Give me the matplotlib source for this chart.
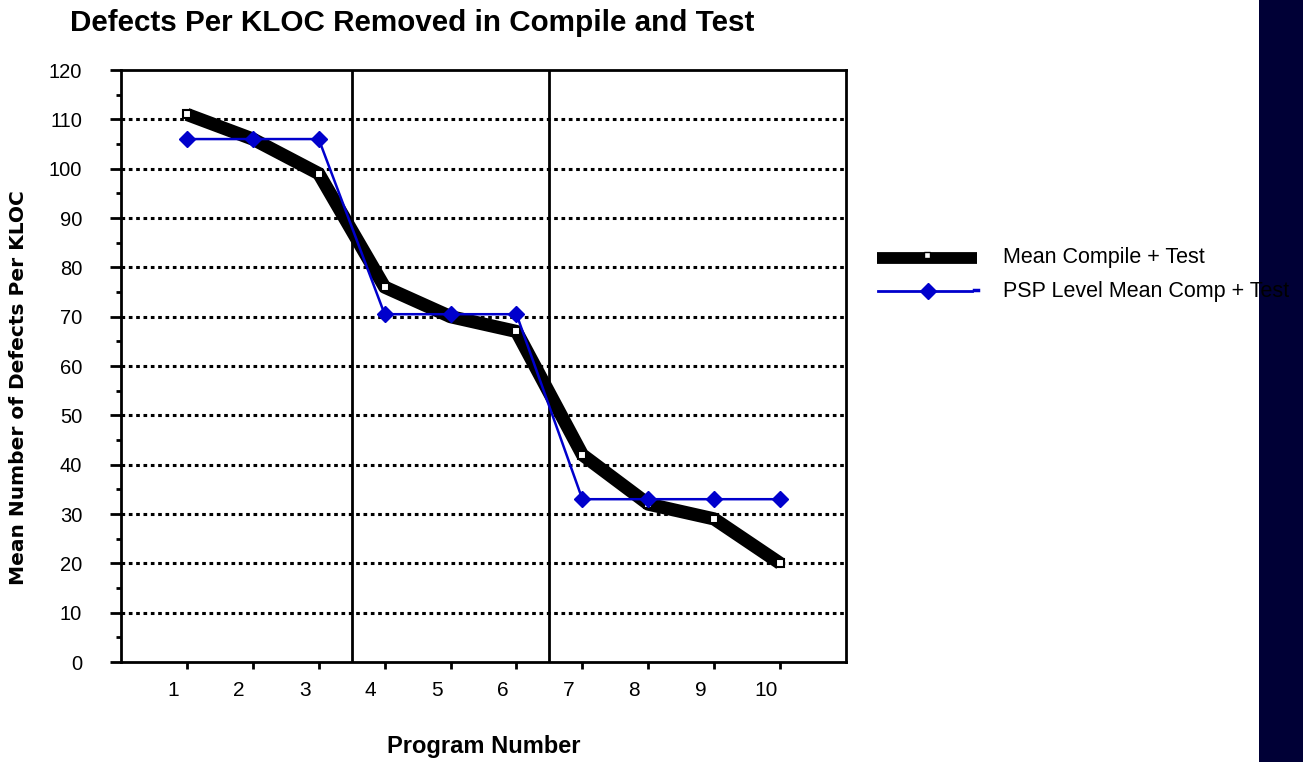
import numpy as np
import matplotlib.pyplot as plt
from matplotlib.patches import Rectangle
from matplotlib.lines import Line2D

plt.rcParams['font.family'] = ['Liberation Sans', 'DejaVu Sans']

# data
programs = [1, 2, 3, 4, 5, 6, 7, 8, 9, 10]
mean_ct = [111, 106, 99, 76, 70, 67, 42, 32, 29, 20]
psp_level = [106, 106, 106, 70.5, 70.5, 70.5, 33, 33, 33, 33]
level_breaks = [3.5, 6.5]
y_ticks = list(range(0, 121, 10))

fig = plt.figure(figsize=(13.03, 7.62), dpi=100)
ax = fig.add_axes([121 / 1303, 100 / 762, 725 / 1303, 592 / 762])

for yv in y_ticks[1:-1]:
    ax.axhline(yv, color='black', linestyle=(0, (1.2, 1.2)), linewidth=2.2, zorder=1)
for xb in level_breaks:
    ax.axvline(xb, color='black', linewidth=2, zorder=2)

ax.plot(programs, mean_ct, color='black', linewidth=9.5, solid_capstyle='butt',
        marker='s', markersize=6, markerfacecolor='white', markeredgecolor='black',
        markeredgewidth=1.5, zorder=3)
ax.plot(programs, psp_level, color='#0000cc', linewidth=1.8, marker='D', markersize=8,
        markerfacecolor='#0000cc', markeredgecolor='#0000cc', zorder=4)

ax.set_xlim(0, 11)
ax.set_ylim(0, 120)
ax.set_yticks(y_ticks)
ax.set_yticks(np.arange(5, 120, 10), minor=True)
# the labels sit a little left of their tick marks in the original
ax.set_xticks([p - 0.21 for p in programs])
ax.set_xticklabels([str(p) for p in programs])
ax.set_xticks(programs, minor=True)

ax.tick_params(axis='y', which='major', direction='out', length=8, width=2,
               labelsize=14.5, pad=20)
ax.tick_params(axis='y', which='minor', direction='out', length=3.6, width=2)
ax.tick_params(axis='x', which='major', length=0, labelsize=15, pad=14)
ax.tick_params(axis='x', which='minor', direction='out', length=5, width=2)
for sp in ax.spines.values():
    sp.set_linewidth(2)

ax.set_xlabel('Program Number', fontsize=17, fontweight='bold', labelpad=25)
ax.set_ylabel('Mean Number of Defects Per KLOC', fontsize=14.5, fontweight='bold',
              family='DejaVu Sans')
ax.yaxis.set_label_coords(-0.128, 0.463)
fig.text(70 / 1303, 1 - 23 / 762, 'Defects Per KLOC Removed in Compile and Test',
         fontsize=21.3, fontweight='bold', ha='left', va='center')

# overlay axes in pixel units for the navy strip and the legend
over = fig.add_axes([0, 0, 1, 1], facecolor='none')
over.set_xlim(0, 1303)
over.set_ylim(762, 0)
over.axis('off')
over.add_patch(Rectangle((1259, 0), 44, 762, facecolor='#000036', edgecolor='none',
                         zorder=0))
over.add_line(Line2D([877, 977], [258, 258], color='black', linewidth=8.5,
                     solid_capstyle='butt', zorder=2))
over.plot([927], [255], marker='s', markersize=4, markerfacecolor='white',
          markeredgecolor='black', markeredgewidth=1, zorder=3)
over.add_line(Line2D([878, 972], [291, 291], color='#0000cc', linewidth=2, zorder=2))
over.add_line(Line2D([974, 978], [290, 290], color='#0000cc', linewidth=2.5, zorder=2))
over.plot([928], [291], marker='D', markersize=8, color='#0000cc', zorder=3)
over.text(1003, 258, 'Mean Compile + Test', fontsize=15.5, va='center', zorder=4)
over.text(1003, 291, 'PSP Level Mean Comp + Test', fontsize=15.5, va='center', zorder=4)

fig.savefig('out.png', dpi=100)
